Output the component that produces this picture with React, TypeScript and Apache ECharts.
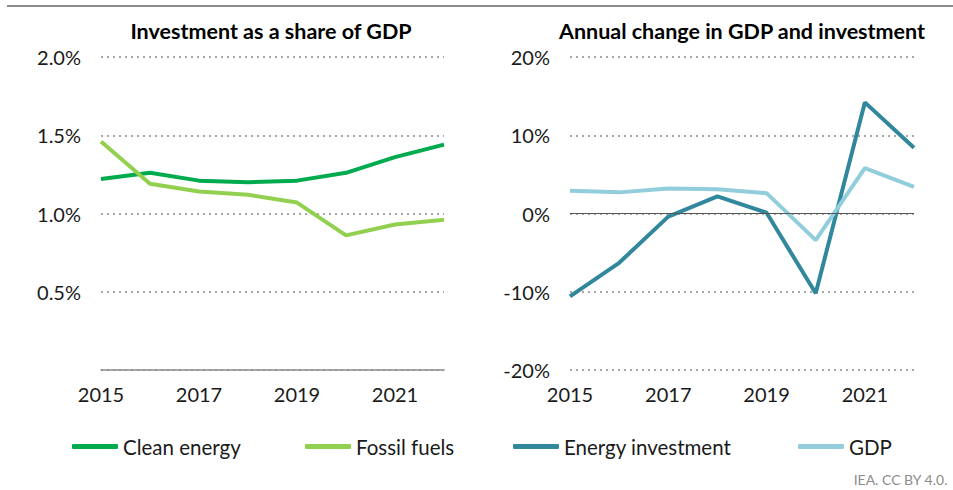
import React, { useEffect, useRef } from "react";
import * as echarts from "echarts";

const years = ["2015", "2016", "2017", "2018", "2019", "2020", "2021", "2022"];
const cleanEnergy = [1.22, 1.26, 1.21, 1.2, 1.21, 1.26, 1.36, 1.44];
const fossilFuels = [1.46, 1.19, 1.14, 1.12, 1.07, 0.86, 0.93, 0.96];
const energyInvestment = [-10.6, -6.3, -0.4, 2.2, 0.1, -10.2, 14.2, 8.4];
const gdp = [2.9, 2.7, 3.2, 3.1, 2.6, -3.4, 5.8, 3.4];
const titles = ["Investment as a share of GDP", "Annual change in GDP and investment"];

const FONT = "Lato, 'Noto Sans', sans-serif";

export default function App() {
  const ref = useRef<HTMLDivElement>(null);
  useEffect(() => {
    if (!ref.current) return;
    const chart = echarts.init(ref.current, null, { renderer: "svg" });
    const dotted = { show: true, lineStyle: { type: [2, 4] as any, color: "#8a8a8a", width: 1.5 } };
    const axisLabel = { color: "#1a1a1a", fontSize: 20, fontFamily: FONT };
    const legendBase = {
      top: 431,
      itemWidth: 46,
      itemHeight: 5,
      itemGap: 0,
      itemTextGap: 1,
      icon: "roundRect",
      textStyle: { color: "#1a1a1a", fontSize: 20.5, fontFamily: FONT },
    };
    const titleStyle = { fontSize: 21.5, fontWeight: "bold", color: "#000", fontFamily: FONT };
    chart.setOption({
      animation: false,
      textStyle: { fontFamily: FONT },
      title: [
        { text: titles[0], left: 266, top: 15, textAlign: "center", textStyle: titleStyle },
        { text: titles[1], left: 737, top: 15, textAlign: "center", textStyle: titleStyle },
      ],
      graphic: [
        { type: "line", shape: { x1: 7, y1: 6, x2: 953, y2: 6 }, style: { stroke: "#8c8c8c", lineWidth: 2 } },
        { type: "text", right: 5, top: 472, style: { text: "IEA. CC BY 4.0.", fill: "#8c8c8c", fontSize: 14, fontFamily: FONT } },
      ],
      legend: [
        { ...legendBase, left: 67, data: ["Clean energy"] },
        { ...legendBase, left: 300, data: ["Fossil fuels"] },
        { ...legendBase, left: 508, data: ["Energy investment"] },
        { ...legendBase, left: 793, data: ["GDP"] },
      ],
      grid: [
        { left: 101, width: 343, top: 57, height: 313 },
        { left: 570, width: 344, top: 57, height: 313 },
      ],
      xAxis: [
        {
          type: "category", gridIndex: 0, data: years, boundaryGap: false,
          axisLine: { show: true, lineStyle: { color: "#8c8c8c", width: 1.5 } },
          axisTick: { show: false },
          axisLabel: { ...axisLabel, interval: 1, margin: 14 },
        },
        {
          type: "category", gridIndex: 1, data: years, boundaryGap: false,
          axisLine: { show: false, onZero: false },
          axisTick: { show: false },
          axisLabel: { ...axisLabel, interval: 1, margin: 14 },
        },
      ],
      yAxis: [
        {
          type: "value", gridIndex: 0, min: 0, max: 2, interval: 0.5,
          axisLine: { show: false }, axisTick: { show: false },
          splitLine: dotted,
          axisLabel: { ...axisLabel, margin: 20, formatter: (v: number) => (v === 0 ? "" : v.toFixed(1) + "%") },
        },
        {
          type: "value", gridIndex: 1, min: -20, max: 20, interval: 10,
          axisLine: { show: false }, axisTick: { show: false },
          splitLine: dotted,
          axisLabel: { ...axisLabel, margin: 20, formatter: (v: number) => v + "%" },
        },
      ],
      series: [
        { name: "Clean energy", type: "line", xAxisIndex: 0, yAxisIndex: 0, data: cleanEnergy, symbol: "none", lineStyle: { width: 4, color: "#00AB4E" }, itemStyle: { color: "#00AB4E" } },
        { name: "Fossil fuels", type: "line", xAxisIndex: 0, yAxisIndex: 0, data: fossilFuels, symbol: "none", lineStyle: { width: 4, color: "#92D050" }, itemStyle: { color: "#92D050" } },
        {
          name: "Energy investment", type: "line", xAxisIndex: 1, yAxisIndex: 1, data: energyInvestment, symbol: "none", z: 3,
          lineStyle: { width: 4, color: "#31879C" }, itemStyle: { color: "#31879C" },
        },
        {
          name: "GDP", type: "line", xAxisIndex: 1, yAxisIndex: 1, data: gdp, symbol: "none",
          lineStyle: { width: 4, color: "#92CDDC" }, itemStyle: { color: "#92CDDC" },
          markLine: { silent: true, symbol: "none", label: { show: false }, lineStyle: { type: "solid", color: "#555", width: 1 }, data: [{ yAxis: 0 }] },
        },
      ],
    });
    return () => chart.dispose();
  }, []);
  return <div ref={ref} style={{ position: "absolute", left: 0, top: 0, width: 953, height: 490 }} />;
}
